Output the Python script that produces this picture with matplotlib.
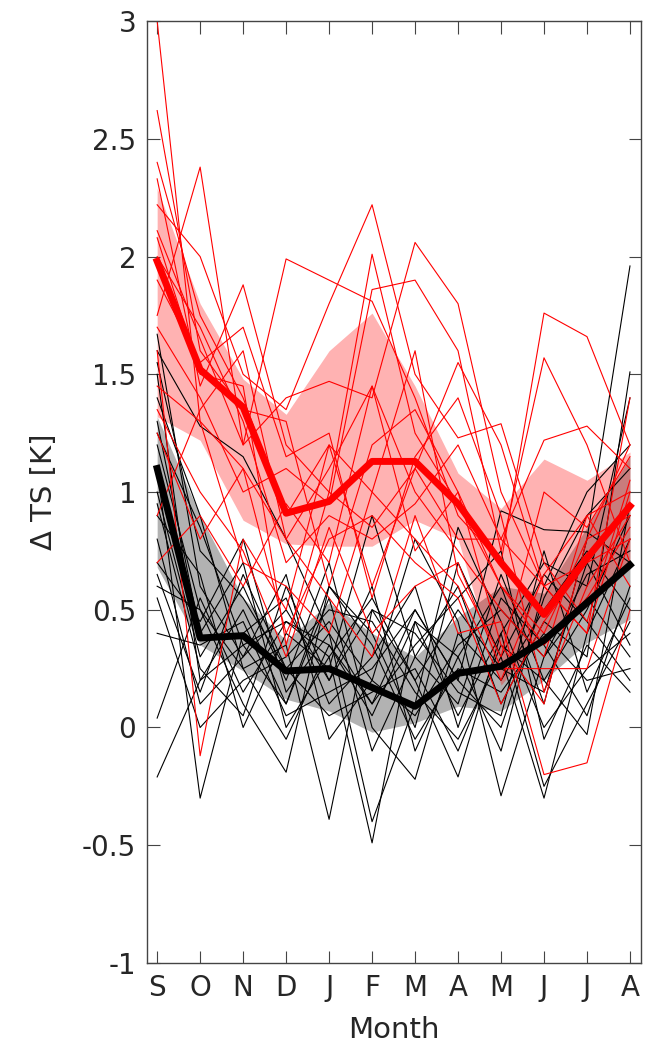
import matplotlib.pyplot as plt
import numpy as np

# Meses (septiembre a agosto)
meses = ['S', 'O', 'N', 'D', 'J', 'F', 'M', 'A', 'M', 'J', 'J', 'A']

# Medias del ensamble
media_roja = [1.98, 1.52, 1.36, 0.91, 0.96, 1.13, 1.13, 0.95, 0.70, 0.48, 0.72, 0.94]
media_negra = [1.10, 0.38, 0.39, 0.24, 0.25, 0.17, 0.09, 0.23, 0.26, 0.37, 0.53, 0.69]

# Bandas de incertidumbre
banda_roja_sup = [2.29, 1.80, 1.48, 1.33, 1.60, 1.76, 1.45, 1.08, 0.93, 1.14, 1.05, 1.17]
banda_roja_inf = [1.32, 1.22, 0.88, 0.78, 0.77, 0.77, 0.88, 0.80, 0.18, 0.40, 0.54, 0.68]
banda_negra_sup = [1.32, 0.90, 0.55, 0.37, 0.53, 0.40, 0.30, 0.47, 0.60, 0.57, 0.85, 1.15]
banda_negra_inf = [0.68, 0.35, 0.24, 0.12, 0.07, -0.02, 0.02, 0.09, 0.07, 0.20, 0.36, 0.46]

# Miembros individuales (rojo)
miembros_rojos = [
    [3.00, 1.30, 1.10, 0.80, 1.10, 1.45, 1.00, 0.75, 0.50, 0.30, 0.90, 1.00],
    [2.62, 1.60, 1.35, 1.30, 0.60, 1.20, 1.35, 1.00, 0.60, 0.40, 0.80, 0.90],
    [2.33, 1.45, 1.88, 1.20, 1.00, 0.85, 1.10, 1.55, 1.20, 0.60, 0.70, 0.80],
    [2.22, 2.00, 1.50, 1.35, 1.80, 2.22, 1.50, 1.23, 1.29, 0.70, 0.45, 1.05],
    [2.11, 1.65, 1.20, 1.99, 1.90, 1.81, 1.40, 0.90, 0.70, 1.76, 1.66, 1.20],
    [2.08, 1.50, 1.45, 0.35, 1.00, 2.01, 1.25, 0.95, 0.60, 0.35, 0.55, 0.85],
    [1.75, 2.38, 1.20, 1.40, 1.47, 1.40, 2.06, 1.80, 1.00, 0.60, 0.40, 1.00],
    [1.70, 1.40, 1.00, 1.10, 0.95, 1.86, 1.90, 1.60, 0.75, 1.57, 1.20, 0.70],
    [1.60, -0.12, 0.80, 0.50, 1.20, 0.60, 1.10, 0.80, 0.80, 1.22, 1.28, 1.10],
    [1.45, 1.30, 0.70, 0.60, 0.40, 1.00, 0.80, 0.60, 0.20, 0.65, 0.90, 0.60],
    [1.25, 0.80, 1.10, 0.40, 0.80, 0.90, 0.70, 0.55, 0.10, 0.45, 0.70, 0.95],
    [0.90, 1.35, 1.60, 0.80, 0.55, 0.30, 0.90, 0.40, 0.45, -0.20, -0.15, 0.50],
    [0.70, 0.90, 0.60, 0.95, 0.70, 1.45, 0.75, 1.00, 0.35, 0.10, 0.80, 1.20],
    [2.00, 1.70, 1.30, 0.70, 0.90, 0.80, 0.95, 1.20, 0.80, 0.60, 0.40, 1.40],
    [1.90, 1.55, 1.70, 1.15, 1.25, 0.55, 1.15, 1.40, 0.90, 0.15, 0.60, 0.90],
    [2.40, 1.75, 1.40, 0.90, 1.20, 1.00, 1.60, 0.65, 0.30, 1.00, 0.85, 1.15],
    [1.35, 1.00, 0.75, 0.30, 0.85, 0.40, 0.60, 0.70, 0.25, 0.25, 0.25, 0.80],
]

# Miembros individuales (negro)
miembros_negros = [
    [1.67, 0.60, 0.30, 0.50, 0.20, 0.60, -0.10, 0.30, 0.60, 0.10, 0.80, 1.96],
    [1.60, 1.28, 1.15, 0.80, 0.40, 0.10, 0.50, 0.20, 0.92, 0.84, 0.83, 0.70],
    [1.50, 0.20, 0.50, 0.10, 0.55, -0.10, 0.30, 0.60, 0.10, 0.45, 0.30, 1.51],
    [1.40, 0.90, 0.25, 0.35, -0.39, 0.50, 0.20, -0.21, 0.40, 0.70, 0.60, 1.40],
    [1.30, 0.40, 0.70, 0.00, 0.30, -0.49, 0.45, 0.30, -0.10, 0.60, 1.00, 1.20],
    [1.20, 0.50, 0.10, -0.19, 0.60, 0.40, 0.00, 0.70, 0.30, -0.30, 0.40, 0.80],
    [1.10, -0.30, 0.40, 0.55, 0.10, 0.30, 0.60, 0.00, 0.55, 0.35, 0.05, 0.60],
    [1.00, 0.30, 0.60, 0.20, 0.70, 0.00, -0.22, 0.40, 0.20, 0.50, 0.75, 0.50],
    [0.90, 0.65, 0.00, 0.40, 0.25, 0.90, 0.30, 0.10, 0.65, 0.20, -0.03, 0.95],
    [0.80, 0.10, 0.30, 0.65, -0.05, 0.20, 0.80, 0.45, -0.29, 0.30, 0.55, 0.30],
    [0.70, 0.45, 0.80, 0.15, 0.40, -0.40, 0.10, 0.85, 0.45, 0.00, 0.25, 0.40],
    [0.55, 0.00, 0.20, 0.30, 0.50, 0.45, 0.15, -0.05, 0.30, 0.65, 0.45, 0.20],
    [0.40, 0.35, 0.45, 0.05, 0.15, 0.25, 0.50, 0.20, 0.00, 0.55, 0.90, 1.10],
    [0.04, 0.55, 0.15, 0.45, 0.35, 0.10, 0.35, 0.55, 0.75, -0.05, 0.35, 0.15],
    [-0.21, 0.20, 0.35, 0.10, 0.60, 0.35, -0.05, 0.25, 0.15, 0.40, 0.20, 0.25],
    [1.55, 0.75, 0.55, 0.25, 0.45, 0.20, 0.05, 0.35, 0.50, 0.30, 0.65, 0.75],
    [0.95, 0.25, 0.05, 0.60, 0.20, 0.50, 0.40, 0.15, 0.05, 0.75, 0.15, 0.55],
    [0.65, 0.15, 0.65, 0.25, 0.05, 0.15, 0.25, -0.10, 0.35, 0.20, 0.50, 0.90],
    [1.25, 0.85, 0.35, 0.45, 0.30, 0.55, 0.20, 0.50, 0.25, 0.15, 0.70, 0.35],
    [0.60, 0.50, 0.25, -0.05, 0.35, 0.05, 0.45, 0.05, 0.40, -0.25, 0.10, 0.45],
]

x = np.arange(1, len(meses) + 1)
color_texto = '#262626'

fig = plt.figure(figsize=(6.56, 10.5), dpi=100)
ax = fig.add_axes([0.2245, 0.0829, 0.7522, 0.897])

# Bandas
ax.fill_between(x, banda_negra_inf, banda_negra_sup, color='black', alpha=0.3, linewidth=0)
ax.fill_between(x, banda_roja_inf, banda_roja_sup, color='red', alpha=0.3, linewidth=0)

# Miembros
for m in miembros_negros:
    ax.plot(x, m, color='black', linewidth=0.8)
for m in miembros_rojos:
    ax.plot(x, m, color='red', linewidth=0.8)

# Medias
ax.plot(x, media_negra, color='black', linewidth=5)
ax.plot(x, media_roja, color='red', linewidth=5)

ax.set_xlim(0.77, 12.25)
ax.set_ylim(-1, 3)
ax.set_xticks(x)
ax.set_xticklabels(meses)
yt = np.arange(-1, 3.01, 0.5)
ax.set_yticks(yt)
ax.set_yticklabels(['-1', '-0.5', '0', '0.5', '1', '1.5', '2', '2.5', '3'])

ax.tick_params(direction='in', top=True, right=True, length=9, width=0.8,
               color='#444444', labelsize=20, labelcolor=color_texto, pad=8)
for s in ax.spines.values():
    s.set_color('#444444')
    s.set_linewidth(1.0)

ax.set_xlabel('Month', fontsize=21, color=color_texto, labelpad=10)
ax.set_ylabel('Δ TS [K]', fontsize=21, color=color_texto, labelpad=17)

fig.savefig('out.png', dpi=100)
